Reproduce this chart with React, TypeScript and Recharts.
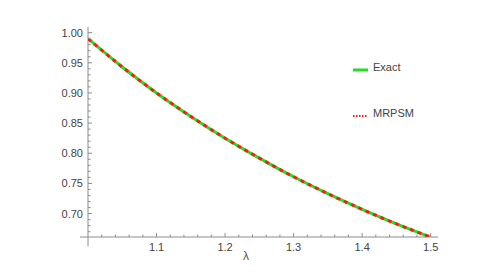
import React from 'react';
import { LineChart, Line, XAxis, YAxis, ReferenceLine, Legend } from 'recharts';

// lambda values and curve readings (Exact vs MRPSM are indistinguishable)
const lambdas = [1.0, 1.05, 1.1, 1.15, 1.2, 1.25, 1.3, 1.35, 1.4, 1.45, 1.5];
const exactValues = [0.99, 0.943, 0.9, 0.861, 0.825, 0.792, 0.761, 0.733, 0.707, 0.683, 0.661];
const mrpsmValues = [0.99, 0.943, 0.9, 0.861, 0.825, 0.792, 0.761, 0.733, 0.707, 0.683, 0.661];

const xMajorTicks = [1.1, 1.2, 1.3, 1.4, 1.5];
const yMajorTicks = [0.7, 0.75, 0.8, 0.85, 0.9, 0.95, 1.0];

const seriesNames = ['Exact', 'MRPSM'];

const xTicks: number[] = [];
for (let i = 1; i <= 25; i++) xTicks.push(Math.round((1 + i * 0.02) * 100) / 100);
const yTicks: number[] = [];
for (let i = 67; i <= 100; i++) yTicks.push(i / 100);

const data = lambdas.map((x, i) => ({ x, exact: exactValues[i], mrpsm: mrpsmValues[i] }));

const AXIS = '#8c8c8c';
const TEXT = '#444';
const GREEN = '#1ee01e';
const RED = '#ff1a1a';
const FONT = '"Liberation Sans", Arial, sans-serif';

const isMajor = (v: number, majors: number[]) => majors.some(m => Math.abs(m - v) < 1e-6);

const YTick = (props: any) => {
  const { x, y, payload } = props;
  const major = isMajor(payload.value, yMajorTicks);
  return (
    <g>
      <line x1={x} x2={x + (major ? 4 : 2.5)} y1={y} y2={y} stroke={AXIS} strokeWidth={1} />
      {major && (
        <text x={x - 5} y={y + 4} textAnchor="end" fontSize={11} fontFamily={FONT} fill={TEXT}>
          {payload.value.toFixed(2)}
        </text>
      )}
    </g>
  );
};

const XTick = (props: any) => {
  const { x, y, payload } = props;
  const major = isMajor(payload.value, xMajorTicks);
  return (
    <g>
      <line x1={x} x2={x} y1={y} y2={y - (major ? 4 : 2.5)} stroke={AXIS} strokeWidth={1} />
      {major && (
        <text x={x} y={y + 14} textAnchor="middle" fontSize={11} fontFamily={FONT} fill={TEXT}>
          {payload.value.toFixed(1)}
        </text>
      )}
    </g>
  );
};

const LegendBox = () => (
  <svg width={120} height={70}>
    <line x1={3} x2={18} y1={16} y2={16} stroke={GREEN} strokeWidth={3} />
    <text x={23} y={16.5} fontSize={11} fontFamily={FONT} fill={TEXT}>{seriesNames[0]}</text>
    <line x1={3} x2={18} y1={62} y2={62} stroke={RED} strokeWidth={2} strokeDasharray="1.5 1.5" />
    <text x={23} y={62.5} fontSize={11} fontFamily={FONT} fill={TEXT}>{seriesNames[1]}</text>
  </svg>
);

export default function App() {
  return (
    <div style={{ position: 'absolute', left: 0, top: 0, background: '#fff' }}>
      <LineChart width={501} height={274} data={data} margin={{ top: 27, right: 63, left: 0, bottom: 0 }}>
        <XAxis
          type="number"
          dataKey="x"
          domain={[1.0, 1.5107]}
          ticks={xTicks}
          interval={0}
          axisLine={false}
          tickLine={false}
          tickSize={0}
          tickMargin={0}
          tick={<XTick />}
          height={37}
          allowDataOverflow
        />
        <YAxis
          type="number"
          domain={[0.6612, 1.0093]}
          ticks={yTicks}
          interval={0}
          axisLine={false}
          tickLine={false}
          tickSize={0}
          tickMargin={0}
          tick={<YTick />}
          width={88}
          allowDataOverflow
        />
        <ReferenceLine
          segment={[{ x: 0.9883, y: 0.6612 }, { x: 1.5107, y: 0.6612 }]}
          stroke={AXIS}
          strokeWidth={1}
          ifOverflow="visible"
        />
        <ReferenceLine
          segment={[{ x: 1.0, y: 0.6458 }, { x: 1.0, y: 1.0093 }]}
          stroke={AXIS}
          strokeWidth={1}
          ifOverflow="visible"
        />
        <Line type="monotone" dataKey="exact" stroke={GREEN} strokeWidth={3} dot={false} isAnimationActive={false} />
        <Line
          type="monotone"
          dataKey="mrpsm"
          stroke={RED}
          strokeWidth={3}
          strokeDasharray="4 4"
          dot={false}
          isAnimationActive={false}
        />
        <Legend
          layout="vertical"
          align="center"
          verticalAlign="middle"
          content={<LegendBox />}
          wrapperStyle={{ position: 'absolute', left: 350, top: 54, width: 120, height: 70 }}
        />
      </LineChart>
      <div
        style={{
          position: 'absolute',
          left: 243,
          top: 248,
          fontSize: 12,
          fontFamily: FONT,
          color: '#555',
          lineHeight: '16px',
        }}
      >
        λ
      </div>
    </div>
  );
}
